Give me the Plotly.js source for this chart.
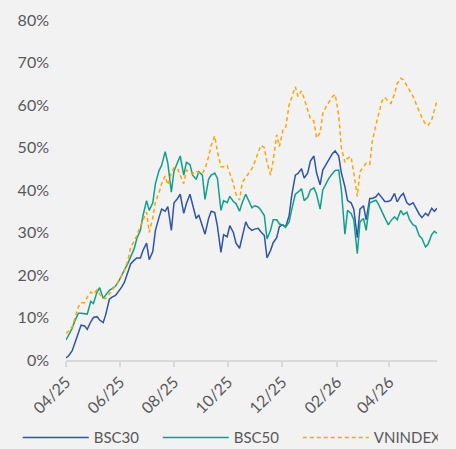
<!DOCTYPE html>
<html>
<head>
<meta charset="utf-8">
<script src="https://cdn.plot.ly/plotly-3.0.1.min.js"></script>
<style>
  html, body { margin: 0; padding: 0; background: #f2f2f2; }
  #chart { width: 456px; height: 449px; }
</style>
</head>
<body>
<div id="chart"></div>
<script>
// Dates (sampled twice a week, Tue/Fri)
const dates = [
  "2025-04-01","2025-04-04","2025-04-08","2025-04-11","2025-04-15","2025-04-18","2025-04-22","2025-04-25","2025-04-29","2025-05-02",
  "2025-05-06","2025-05-09","2025-05-13","2025-05-16","2025-05-20","2025-05-23","2025-05-27","2025-05-30","2025-06-03","2025-06-06",
  "2025-06-10","2025-06-13","2025-06-17","2025-06-20","2025-06-24","2025-06-27","2025-07-01","2025-07-04","2025-07-08","2025-07-11",
  "2025-07-15","2025-07-18","2025-07-22","2025-07-25","2025-07-29","2025-08-01","2025-08-05","2025-08-08","2025-08-12","2025-08-15",
  "2025-08-19","2025-08-22","2025-08-26","2025-08-29","2025-09-02","2025-09-05","2025-09-09","2025-09-12","2025-09-16","2025-09-19",
  "2025-09-23","2025-09-26","2025-09-30","2025-10-03","2025-10-07","2025-10-10","2025-10-14","2025-10-17","2025-10-21","2025-10-24",
  "2025-10-28","2025-10-31","2025-11-04","2025-11-07","2025-11-11","2025-11-14","2025-11-18","2025-11-21","2025-11-25","2025-11-28",
  "2025-12-02","2025-12-05","2025-12-09","2025-12-12","2025-12-16","2025-12-19","2025-12-23","2025-12-26","2025-12-30","2026-01-02",
  "2026-01-06","2026-01-09","2026-01-13","2026-01-16","2026-01-20","2026-01-23","2026-01-27","2026-01-30","2026-02-03","2026-02-06",
  "2026-02-10","2026-02-13","2026-02-17","2026-02-20","2026-02-24","2026-02-27","2026-03-03","2026-03-06","2026-03-10","2026-03-13",
  "2026-03-17","2026-03-20","2026-03-24","2026-03-27","2026-03-31","2026-04-03","2026-04-07","2026-04-10","2026-04-14","2026-04-17",
  "2026-04-21","2026-04-24","2026-04-28","2026-05-01","2026-05-05","2026-05-08","2026-05-12","2026-05-15","2026-05-19","2026-05-22",
  "2026-05-25"
];

// Cumulative return, %
const bsc30 = [
  0.5,1.0,2.2,4.0,6.0,8.2,8.0,7.2,9.0,10.0,
  10.2,9.4,8.8,10.8,14.3,14.8,15.2,16.0,17.2,18.3,
  21.0,22.6,23.5,24.0,24.0,25.8,27.5,23.6,25.5,30.5,
  33.5,35.5,35.0,36.1,30.5,37.0,38.0,39.0,34.5,36.8,
  39.0,36.3,33.3,34.1,31.8,29.6,33.3,35.0,34.7,31.5,
  25.3,29.5,29.0,31.6,30.0,27.5,26.3,29.0,32.5,31.2,
  30.5,30.8,31.0,30.2,29.3,24.0,25.8,27.6,28.8,31.4,
  31.8,31.3,34.0,38.8,43.5,43.9,45.0,42.8,44.0,46.8,
  48.0,44.0,41.2,44.7,46.0,47.0,48.6,49.2,48.0,44.0,
  40.8,37.5,37.0,35.5,28.8,35.5,36.3,33.0,38.0,38.0,
  38.4,39.2,38.0,37.3,37.3,37.6,39.2,37.2,38.6,39.2,
  37.0,36.5,37.0,35.7,34.3,33.5,34.5,34.0,35.7,35.0,
  35.7
];

const bsc50 = [
  4.7,5.8,7.5,9.2,11.0,11.0,10.8,10.8,13.8,13.3,
  16.0,17.0,14.5,15.2,16.4,16.8,17.4,18.3,20.2,21.2,
  22.8,24.1,26.2,28.6,30.5,34.0,37.5,35.2,37.0,41.5,
  44.5,45.8,49.0,46.3,39.5,44.5,46.5,48.0,43.5,46.5,
  46.0,43.5,42.5,44.3,43.5,37.8,42.5,43.5,44.0,42.7,
  35.2,37.5,37.0,38.5,37.3,36.8,35.0,37.0,39.0,37.5,
  35.8,36.3,36.0,35.3,34.0,28.5,30.5,33.0,33.0,32.0,
  31.8,31.2,32.5,35.5,39.0,39.5,40.3,37.5,38.3,40.0,
  40.5,39.0,35.5,40.0,41.8,42.8,43.9,44.6,44.7,40.0,
  29.6,35.2,34.5,33.0,25.0,32.5,33.3,30.5,37.0,37.3,
  37.6,36.6,35.0,33.5,31.8,32.8,33.7,33.0,35.2,34.2,
  34.8,33.0,31.8,31.5,29.2,28.6,26.6,27.3,29.5,30.3,
  29.8
];

const vnindex = [
  6.3,6.8,7.8,9.8,12.5,13.5,13.5,14.8,16.0,15.5,
  16.5,15.5,14.5,14.5,15.5,16.3,17.5,18.5,20.0,21.0,
  23.5,26.5,28.0,29.3,31.5,33.0,34.8,30.0,33.5,37.3,
  39.3,41.5,43.3,41.2,44.0,45.2,45.0,43.5,41.5,44.7,
  44.2,43.8,44.5,44.0,43.9,45.0,47.8,50.5,52.7,49.0,
  45.5,45.5,45.8,44.0,41.5,39.0,37.6,41.8,43.0,43.7,
  45.0,46.5,48.8,50.5,50.0,46.5,43.5,47.0,53.0,50.2,
  54.1,54.5,60.0,62.0,64.3,62.0,63.3,61.5,58.5,56.8,
  56.2,52.2,53.5,58.0,59.7,60.8,62.0,62.5,57.5,50.0,
  46.5,47.5,47.8,44.0,38.5,44.3,45.3,46.3,46.0,51.5,
  55.3,57.5,61.0,61.8,60.8,60.4,62.6,65.0,66.3,66.0,
  64.6,63.5,62.0,60.5,58.5,57.0,55.5,55.2,56.5,59.0,
  61.0
];

const seriesNames = ["BSC30", "BSC50", "VNINDEX"];
const xTickVals = ["2025-04-01","2025-06-01","2025-08-01","2025-10-01","2025-12-01","2026-02-01","2026-04-01"];
const yTickVals = [0, 10, 20, 30, 40, 50, 60, 70, 80];

const toFrac = a => a.map(v => v / 100);

const traces = [
  { x: dates, y: toFrac(bsc30), name: seriesNames[0], type: "scatter", mode: "lines",
    line: { color: "#2F55A4", width: 1.5 } },
  { x: dates, y: toFrac(bsc50), name: seriesNames[1], type: "scatter", mode: "lines",
    line: { color: "#10A08A", width: 1.5 } },
  { x: dates, y: toFrac(vnindex), name: seriesNames[2], type: "scatter", mode: "lines",
    line: { color: "#FFA500", width: 1.5, dash: "4px,3px" } }
];

const layout = {
  width: 456, height: 449,
  paper_bgcolor: "#f2f2f2", plot_bgcolor: "#f2f2f2",
  margin: { l: 66, r: 19, t: 20, b: 89, autoexpand: false },
  font: { family: "Lato, 'Liberation Sans', sans-serif", size: 16, color: "#595959" },
  showlegend: true,
  legend: {
    orientation: "h",
    x: -0.13, xanchor: "left", y: -0.18, yanchor: "top",
    itemwidth: 66, entrywidth: 59, entrywidthmode: "pixels",
    font: { size: 15, color: "#595959" },
    bgcolor: "rgba(0,0,0,0)", tracegroupgap: 0
  },
  xaxis: {
    type: "date",
    range: ["2025-04-01", "2026-05-25"],
    tickvals: xTickVals, tickformat: "%m/%y", tickangle: -45,
    showgrid: false, zeroline: false,
    showline: true, linecolor: "#d9d9d9", linewidth: 1.5,
    ticks: "outside", ticklen: 5, tickwidth: 1.5, tickcolor: "#d9d9d9",
    tickfont: { size: 16, color: "#595959" }
  },
  yaxis: {
    range: [0, 0.8], tickvals: yTickVals.map(v => v / 100), tickformat: ".0%",
    showgrid: false, zeroline: false, showline: false, ticks: "",
    ticklabelstandoff: 16,
    tickfont: { size: 16, color: "#595959" }
  }
};

Plotly.newPlot("chart", traces, layout, { staticPlot: true, displayModeBar: false });
</script>
</body>
</html>
